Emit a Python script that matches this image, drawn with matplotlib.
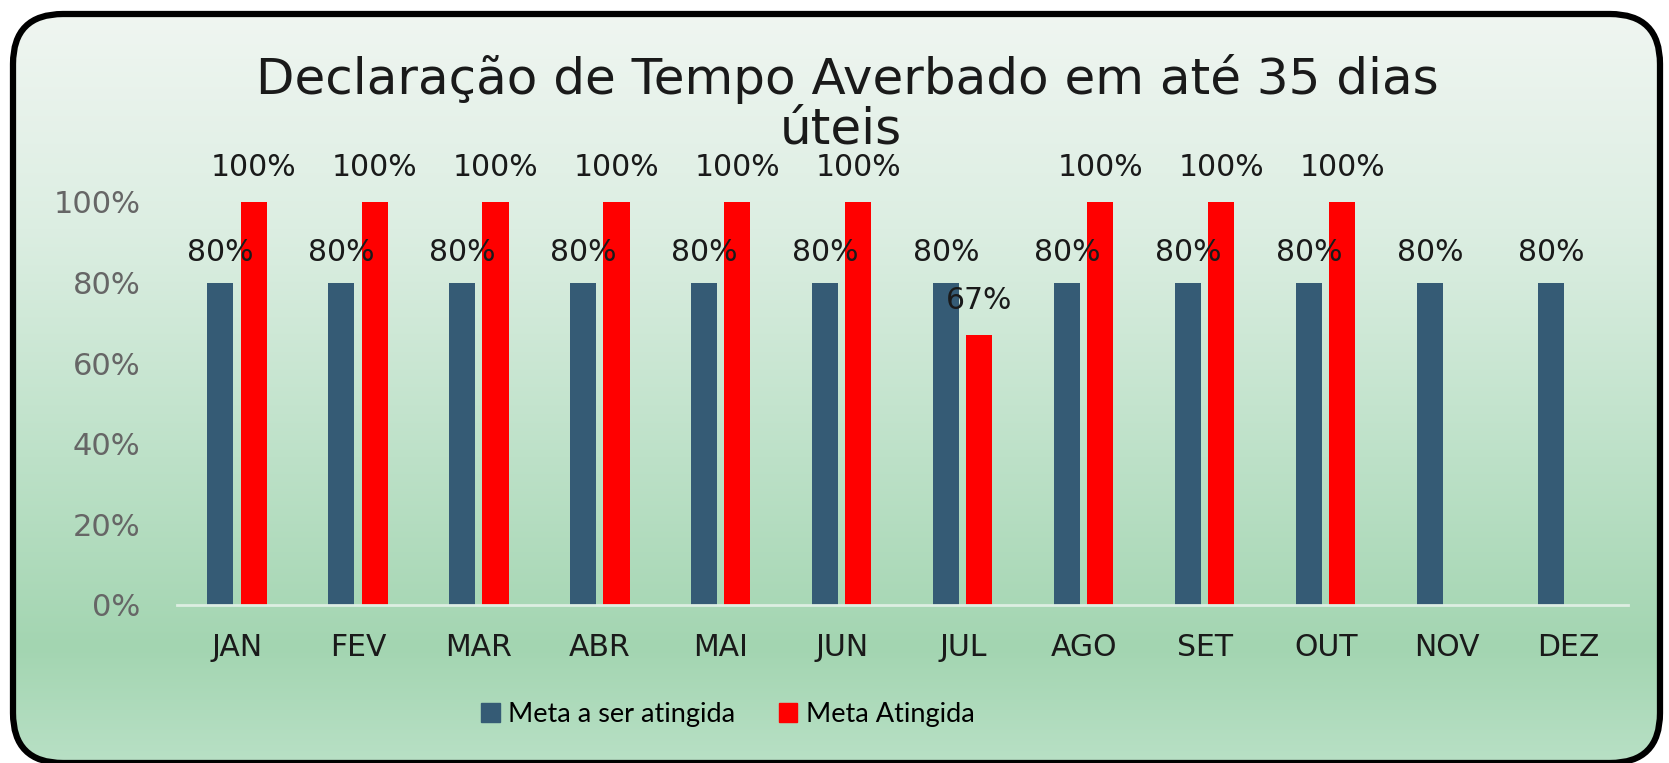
import numpy as np
import matplotlib
matplotlib.use("Agg")
import matplotlib.pyplot as plt
from matplotlib.patches import FancyBboxPatch, Patch
from matplotlib.colors import LinearSegmentedColormap

meses = ['JAN', 'FEV', 'MAR', 'ABR', 'MAI', 'JUN', 'JUL', 'AGO', 'SET', 'OUT', 'NOV', 'DEZ']
meta = [0.80, 0.80, 0.80, 0.80, 0.80, 0.80, 0.80, 0.80, 0.80, 0.80, 0.80, 0.80]
atingida = [1.00, 1.00, 1.00, 1.00, 1.00, 1.00, 0.67, 1.00, 1.00, 1.00, np.nan, np.nan]
yticks = [0, 0.2, 0.4, 0.6, 0.8, 1.0]
titulo = ['Declaração de Tempo Averbado em até 35 dias', 'úteis']

W, H = 1669, 763
fig = plt.figure(figsize=(W / 100, H / 100), dpi=100)
fig.patch.set_facecolor('white')

# background: rounded box with green gradient
bg = fig.add_axes([0, 0, 1, 1])
bg.set_xlim(0, W)
bg.set_ylim(H, 0)
bg.axis('off')
grad = LinearSegmentedColormap.from_list(
    'g', [(0, '#F1F6F2'), (0.3, '#DCEEE2'), (0.6, '#BDE1C8'), (0.85, '#A3D5B1'), (1.0, '#B8E0C5')])
img = bg.imshow(np.linspace(0, 1, 256)[:, None], extent=[0, W, H, 0], cmap=grad, aspect='auto', zorder=0)
box = FancyBboxPatch((13, 14), W - 22, H - 14, boxstyle='round,pad=0,rounding_size=50',
                     facecolor='none', edgecolor='black', linewidth=4.5, zorder=2)
bg.add_patch(box)
img.set_clip_path(box)
bg.plot([60, W - 60], [H - 1, H - 1], color='#6E7E72', lw=1.5, zorder=1)

ax = fig.add_axes([0.1058, 0.2071, 0.8699, 0.5282])
ax.set_facecolor('none')
x = np.arange(len(meses))
w = 0.215
ax.bar(x - 0.14, meta, w, color='#355B75', label='Meta a ser atingida')
ax.bar(x + 0.136, atingida, w, color='#FF0000', label='Meta Atingida')

for xi, v in zip(x, meta):
    ax.text(xi - 0.14, v + 0.075, f'{v:.0%}', ha='center', va='center', fontsize=21.5, color='#1a1a1a')
for xi, v in zip(x, atingida):
    if not np.isnan(v):
        ax.text(xi + 0.136, v + 0.085, f'{v:.0%}', ha='center', va='center', fontsize=21.5,
                color='#1a1a1a', clip_on=False)

ax.set_xlim(-0.5, len(meses) - 0.5)
ax.set_ylim(0, 1)
ax.set_yticks(yticks)
ax.set_yticklabels([f'{t:.0%}' for t in yticks], fontsize=22, color='#666666')
ax.set_xticks(x)
ax.set_xticklabels(meses, fontsize=21.5, color='#1a1a1a')
ax.tick_params(axis='y', length=0, pad=26)
ax.tick_params(axis='x', length=0, pad=20)
for s in ['top', 'right', 'left']:
    ax.spines[s].set_visible(False)
ax.spines['bottom'].set_color('#DDEEE2')
ax.spines['bottom'].set_linewidth(2)

# title wrapped on two lines
fig.text(0.508, 1 - 94 / H, titulo[0], ha='center', va='baseline', fontsize=36, color='#1a1a1a')
fig.text(841 / W, 1 - 144 / H, titulo[1], ha='center', va='baseline', fontsize=36, color='#1a1a1a')

handles = [Patch(color='#355B75', label='Meta a ser atingida'),
           Patch(color='#FF0000', label='Meta Atingida')]
fig.legend(handles=handles, loc='center', bbox_to_anchor=(0.436, 0.063), ncol=2, frameon=False,
           prop={'family': 'Lato', 'size': 19.5}, handlelength=0.7, handleheight=0.7,
           handletextpad=0.3, columnspacing=1.6)

fig.savefig('out.png', dpi=100)
